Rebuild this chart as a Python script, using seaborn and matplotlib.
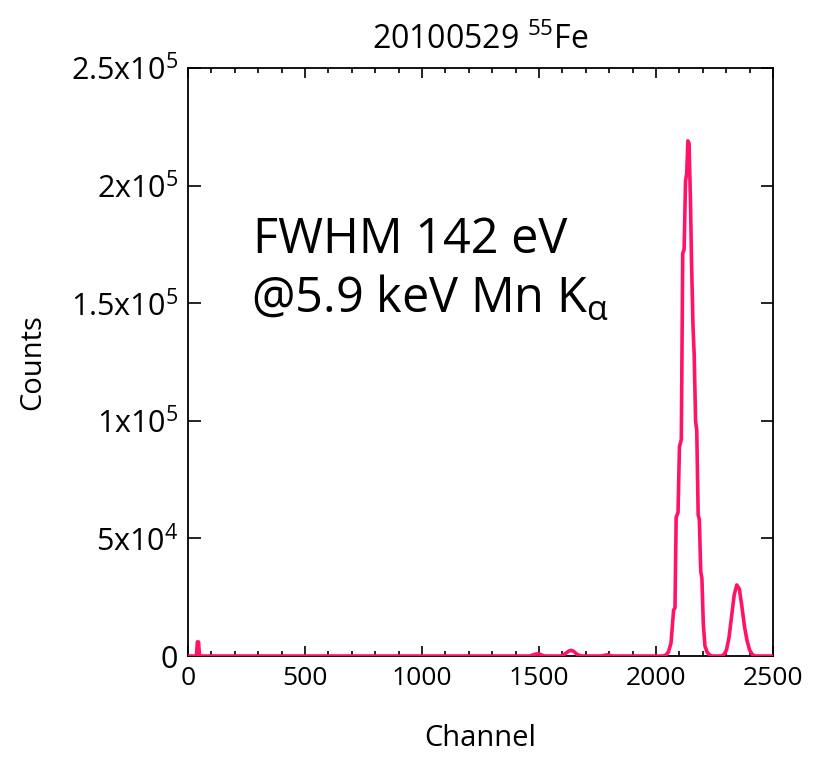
"""
55Fe spectrum (20100529) - counts vs channel, Mn K-alpha / K-beta peaks.
"""

import numpy as np
import pandas as pd
import matplotlib
matplotlib.use("Agg")
import matplotlib.pyplot as plt
import seaborn as sns

# --- data (channel, counts) ---
start_ch = [0, 36]
start_counts = [0, 0]

spike_ch = [40, 45, 49]
spike_counts = [6000, 6000, 0]

escape_ch = [1459, 1470, 1481, 1492, 1503, 1514, 1525]
escape_counts = [0, 300, 700, 900, 800, 300, 0]

bump_ch = [1594, 1605, 1616, 1627, 1638, 1649, 1660, 1671, 1682]
bump_counts = [0, 500, 1300, 2100, 2400, 1900, 900, 300, 0]

small_ch = [1769, 1780, 1791, 1802, 1813]
small_counts = [0, 300, 500, 300, 0]

kalpha_ch = [2031, 2042, 2053, 2064, 2075, 2081, 2086, 2094, 2100, 2108,
             2114, 2120, 2126, 2131, 2136, 2141, 2147, 2152, 2158, 2163,
             2169, 2174, 2180, 2185, 2191, 2196, 2202, 2209, 2218, 2229, 2240]
kalpha_counts = [0, 400, 1700, 5500, 19500, 20500, 59000, 61000, 89000, 92000,
                 171000, 173000, 202000, 205000, 219000, 218000, 194000, 166000, 140000, 128000,
                 100000, 96000, 60000, 58000, 36000, 33000, 13600, 4300, 1700, 400, 0]

kbeta_ch = [2279, 2290, 2301, 2312, 2323, 2334, 2345, 2356, 2367, 2378,
            2389, 2400, 2411, 2422]
kbeta_counts = [0, 600, 2500, 8000, 17000, 26000, 30200, 28500, 21000, 12500,
                6500, 2500, 700, 0]

end_ch = [2500]
end_counts = [0]

xticks = [0, 500, 1000, 1500, 2000, 2500]
yticks = [0, 50000, 100000, 150000, 200000, 250000]
ytick_labels = ["0", r"5x10$^{4}$", r"1x10$^{5}$", r"1.5x10$^{5}$",
                r"2x10$^{5}$", r"2.5x10$^{5}$"]

LINE_COLOR = "#ff1268"

df = pd.DataFrame({
    "Channel": start_ch + spike_ch + escape_ch + bump_ch + small_ch
               + kalpha_ch + kbeta_ch + end_ch,
    "Counts": start_counts + spike_counts + escape_counts + bump_counts
              + small_counts + kalpha_counts + kbeta_counts + end_counts,
})

sns.set_style("ticks")
plt.rcParams["font.family"] = ["Open Sans", "DejaVu Sans"]
plt.rcParams["mathtext.fontset"] = "custom"
plt.rcParams["mathtext.rm"] = "Open Sans"
plt.rcParams["mathtext.it"] = "Open Sans"
plt.rcParams["mathtext.default"] = "regular"
plt.rcParams["text.color"] = "black"
plt.rcParams["axes.labelcolor"] = "black"

fig = plt.figure(figsize=(8.21, 7.57), dpi=100)
ax = fig.add_axes([0.229, 0.1334, 0.7126, 0.7768])

sns.lineplot(data=df, x="Channel", y="Counts", ax=ax, color=LINE_COLOR,
             linewidth=2.6, estimator=None, sort=False, zorder=3)

ax.set_xlim(0, 2500)
ax.set_ylim(0, 250000)
ax.set_xticks(xticks)
ax.set_xticklabels([str(t) for t in xticks])
ax.set_xticks(np.arange(0, 2501, 100), minor=True)
ax.set_yticks(yticks)
ax.set_yticklabels(ytick_labels)

for side in ["top", "right", "bottom", "left"]:
    ax.spines[side].set_visible(True)
    ax.spines[side].set_linewidth(1.3)
    ax.spines[side].set_color("black")

ax.tick_params(axis="both", which="both", direction="in", top=True, right=True,
               width=1.2, colors="black", labelcolor="black")
ax.tick_params(axis="x", which="major", length=7, pad=7, labelsize=19)
ax.tick_params(axis="x", which="minor", length=3.5)
ax.tick_params(axis="y", which="major", length=9, pad=7, labelsize=22)

ax.set_title(r"20100529 $^{55}$Fe", fontsize=23, pad=14)
ax.set_xlabel("Channel", fontsize=21)
ax.set_ylabel("Counts", fontsize=21)
ax.xaxis.set_label_coords(0.5, -0.115)
ax.yaxis.set_label_coords(-0.24, 0.5)

ax.text(0.111, 0.685, "FWHM 142 eV", transform=ax.transAxes,
        fontsize=35, va="baseline", ha="left")
ax.text(0.108, 0.583, r"@5.9 keV Mn K$_{\alpha}$", transform=ax.transAxes,
        fontsize=35, va="baseline", ha="left")

fig.savefig("out.png", dpi=100)
